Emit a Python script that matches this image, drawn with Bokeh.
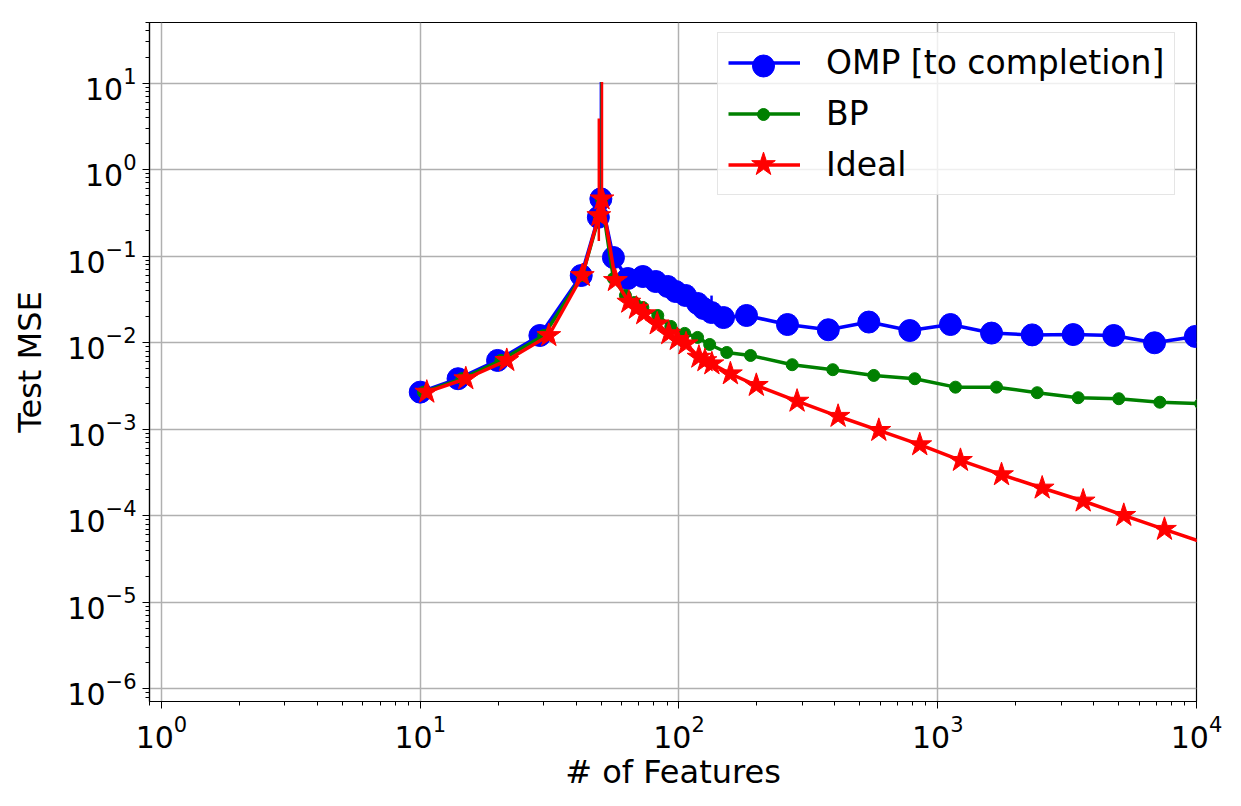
from bokeh.plotting import figure
from bokeh.models import FixedTicker, Legend, LegendItem, Range1d
from bokeh.embed import file_html
from bokeh.resources import INLINE

# ---- data ----
omp_x = [10.0, 14.0, 19.9, 29.0, 41.9, 48.8, 49.9, 55.8, 63.4, 72.5, 81.3, 90.4, 97.1, 106, 118,
         124.5, 133.6, 148.6, 182.4, 262.6, 377.6, 541.6, 779.9, 1120, 1614, 2317, 3337, 4788, 6884, 9900]
omp_y = [0.00268, 0.00383, 0.00623, 0.0121, 0.0597, 0.281, 0.459, 0.0964, 0.0551, 0.0581, 0.0509,
         0.0446, 0.0390, 0.0351, 0.0284, 0.0248, 0.0223, 0.0195, 0.0206, 0.0162, 0.0141, 0.0173,
         0.0138, 0.0162, 0.0129, 0.0123, 0.0124, 0.0121, 0.00997, 0.0118]

bp_x = [10.3, 14.5, 20.5, 30.0, 42.3, 49.2, 50.2, 55.8, 62.1, 67.3, 72.5, 82.8, 93.0, 105.2, 118,
        131.4, 153, 189, 273.8, 393, 566, 815, 1171, 1687, 2423, 3489, 5008, 7216, 10380]
bp_y = [0.00268, 0.00383, 0.00623, 0.0121, 0.0597, 0.29, 0.45, 0.0551, 0.0351, 0.0291, 0.0255,
        0.0206, 0.0154, 0.0128, 0.0115, 0.00953, 0.0077, 0.00711, 0.00556, 0.00487, 0.00418,
        0.00383, 0.00306, 0.00306, 0.00264, 0.00231, 0.00225, 0.00205, 0.00197]

ideal_x = [10.6, 15.0, 21.6, 31.4, 42.3, 49.0, 50.4, 56.8, 64.0, 68.5, 73.1, 82.4, 91.3, 98.5, 106.5,
           119.4, 126, 134, 158, 199, 286, 412, 592, 852, 1224, 1764, 2533, 3648, 5236, 7519, 10834]
ideal_y = [0.00268, 0.00383, 0.00623, 0.0121, 0.0597, 0.294, 0.459, 0.0523, 0.0294, 0.025, 0.0216,
           0.0165, 0.0127, 0.0109, 0.0097, 0.0068, 0.0062, 0.0057, 0.00437, 0.00321, 0.00211,
           0.00141, 0.000969, 0.000662, 0.000436, 0.000298, 0.000209, 0.000148, 0.000101,
           0.0000697, 0.000048]

# visible error bars (x, lower, upper)
omp_err_x = [49.9, 133.6]
omp_err_lo = [0.459, 0.0223]
omp_err_hi = [10.3, 0.035]
bp_err_x = [50.2]
bp_err_lo = [0.45]
bp_err_hi = [10.3]
ideal_err_x = [49.0, 50.4]
ideal_err_lo = [0.15, 0.28]
ideal_err_hi = [3.9, 10.3]

labels = ["OMP [to completion]", "BP", "Ideal"]

x_major = [1, 10, 100, 1000, 10000]
y_major = [1e-6, 1e-5, 1e-4, 1e-3, 1e-2, 1e-1, 1, 10]

x_minor = [m * 10 ** k for k in range(-1, 4) for m in range(2, 10)]
y_minor = [m * 10 ** k for k in range(-7, 2) for m in range(2, 10)]

FONT = "DejaVu Sans"

p = figure(width=1241, height=806, x_axis_type="log", y_axis_type="log",
           x_range=Range1d(0.899, 10000), y_range=Range1d(7.13e-7, 50.1),
           output_backend="svg", toolbar_location=None,
           min_border_left=149, min_border_right=45, min_border_top=22,
           min_border_bottom=105)

p.outline_line_color = "black"
p.outline_line_width = 1.2
p.outline_line_alpha = 1

for ax in (p.xaxis[0], p.yaxis[0]):
    ax.axis_line_color = "black"
    ax.axis_line_width = 1.2
    ax.major_tick_line_color = "black"
    ax.minor_tick_line_color = "black"
    ax.major_tick_in = 0
    ax.major_tick_out = 7
    ax.minor_tick_in = 0
    ax.minor_tick_out = 4
    ax.major_label_text_font = FONT
    ax.major_label_text_font_size = "30px"
    ax.major_label_text_color = "black"
    ax.axis_label_text_font = FONT
    ax.axis_label_text_font_size = "32px"
    ax.axis_label_text_font_style = "normal"
    ax.axis_label_text_color = "black"

p.xaxis[0].ticker = FixedTicker(ticks=x_major, minor_ticks=x_minor)
p.yaxis[0].ticker = FixedTicker(ticks=y_major, minor_ticks=y_minor)
p.xaxis[0].axis_label = "# of Features"
p.yaxis[0].axis_label = "Test MSE"
p.xaxis[0].major_label_standoff = 6
p.yaxis[0].major_label_standoff = 6
p.xaxis[0].axis_label_standoff = 2
p.yaxis[0].axis_label_standoff = 15

for g in (p.xgrid[0], p.ygrid[0]):
    g.grid_line_color = "#b0b0b0"
    g.grid_line_width = 1.5
    g.grid_line_alpha = 1

# OMP
l1 = p.line(omp_x, omp_y, line_color="blue", line_width=3.5)
s1 = p.scatter(omp_x, omp_y, marker="circle", size=22, fill_color="blue", line_color="blue")
p.segment(x0=omp_err_x, y0=omp_err_lo, x1=omp_err_x, y1=omp_err_hi, line_color="blue", line_width=2.5)

# BP
l2 = p.line(bp_x, bp_y, line_color="green", line_width=3.5)
s2 = p.scatter(bp_x, bp_y, marker="circle", size=12, fill_color="green", line_color="green")
p.segment(x0=bp_err_x, y0=bp_err_lo, x1=bp_err_x, y1=bp_err_hi, line_color="green", line_width=2.5)

# Ideal
l3 = p.line(ideal_x, ideal_y, line_color="red", line_width=3.5)
s3 = p.scatter(ideal_x, ideal_y, marker="star", size=25, fill_color="red", line_color="red")
p.segment(x0=ideal_err_x, y0=ideal_err_lo, x1=ideal_err_x, y1=ideal_err_hi, line_color="red", line_width=2.5)

# main legend: box, lines and labels
legend = Legend(items=[LegendItem(label=labels[0], renderers=[l1]),
                       LegendItem(label=labels[1], renderers=[l2]),
                       LegendItem(label=labels[2], renderers=[l3])],
                location=(568, 506))
legend.label_text_font = FONT
legend.label_text_font_size = "33px"
legend.label_text_color = "black"
legend.glyph_width = 72
legend.glyph_height = 37
legend.label_height = 37
legend.label_standoff = 26
legend.spacing = 12
legend.padding = 10
legend.margin = 0
legend.border_line_color = "#cccccc"
legend.border_line_width = 1.5
legend.background_fill_color = "white"
legend.background_fill_alpha = 0.8
p.add_layout(legend)

# marker-only legends so each legend marker keeps its own size
# (legend marker size = 0.4 * glyph_height)
for rend, gh, center_y in ((s1, 55, 65), (s2, 30, 114), (s3, 62, 164)):
    ml = Legend(items=[LegendItem(label=" ", renderers=[rend])],
                location=(578, 701 - center_y - gh / 2))
    ml.glyph_width = 72
    ml.glyph_height = gh
    ml.label_height = 0
    ml.label_width = 0
    ml.label_standoff = 0
    ml.label_text_font_size = "1px"
    ml.padding = 0
    ml.margin = 0
    ml.spacing = 0
    ml.border_line_alpha = 0
    ml.background_fill_alpha = 0
    ml.inactive_fill_alpha = 0
    p.add_layout(ml)

open("out.html", "w").write(file_html(p, INLINE))
